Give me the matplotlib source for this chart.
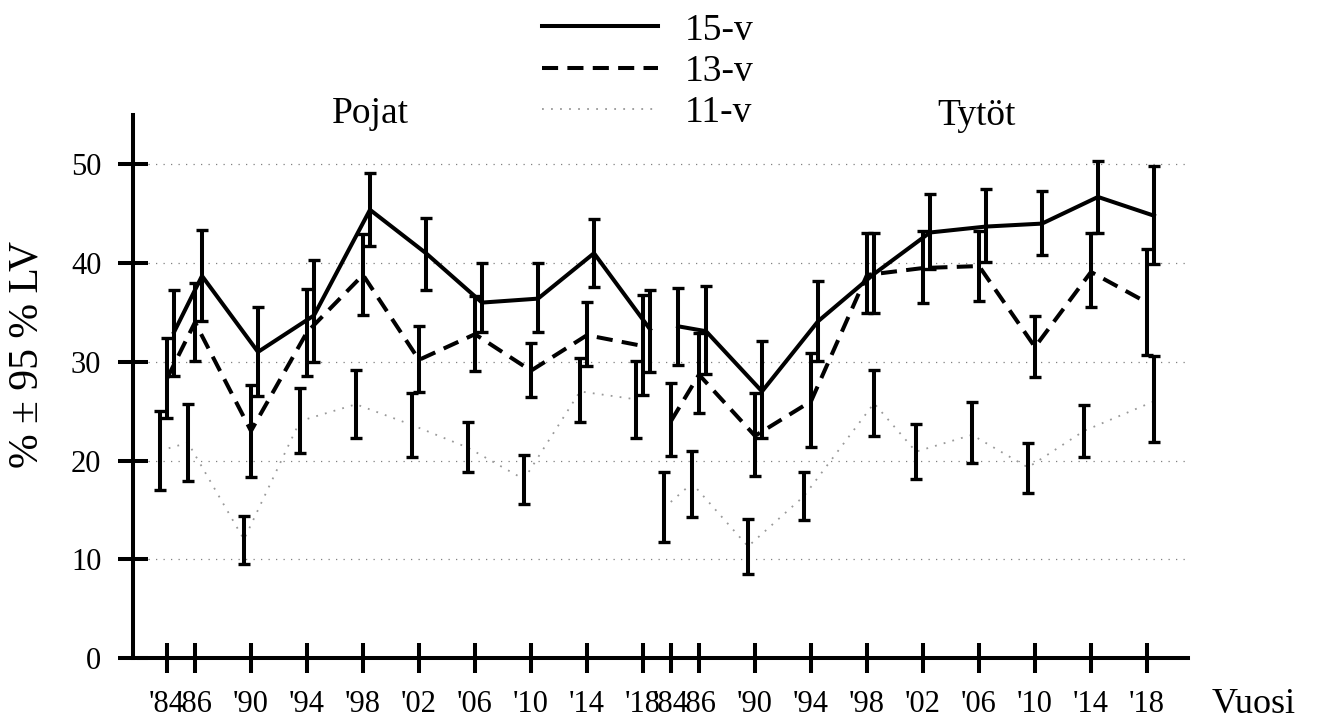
import matplotlib
matplotlib.use("Agg")
import matplotlib.pyplot as plt
from matplotlib.lines import Line2D
import numpy as np

# ---------------- data ----------------
year_labels = ["'84", "'86", "'90", "'94", "'98", "'02", "'06", "'10", "'14", "'18"]
years = [1984, 1986, 1990, 1994, 1998, 2002, 2006, 2010, 2014, 2018]
groups = ["Pojat", "Tytöt"]
series_names = ["15-v", "13-v", "11-v"]

# Pojat (boys)
boys_15 = [33.0, 38.7, 31.0, 34.7, 45.4, 41.0, 36.0, 36.4, 41.0, 33.3]
boys_15_lo = [28.6, 34.1, 26.5, 30.0, 41.7, 37.3, 33.0, 33.0, 37.6, 29.0]
boys_15_hi = [37.3, 43.4, 35.6, 40.3, 49.1, 44.6, 40.0, 40.0, 44.5, 37.3]

boys_13 = [28.3, 34.0, 23.0, 33.0, 38.8, 30.2, 32.8, 29.1, 32.7, 31.6]
boys_13_lo = [24.3, 30.1, 18.3, 28.6, 34.7, 26.9, 29.1, 26.4, 29.6, 26.6]
boys_13_hi = [32.4, 38.0, 27.7, 37.4, 42.9, 33.6, 36.7, 31.9, 36.1, 36.8]

boys_11 = [21.0, 21.8, 12.0, 24.0, 25.7, 23.6, 21.3, 18.1, 27.0, 26.2]
boys_11_lo = [17.0, 17.9, 9.5, 20.8, 22.3, 20.4, 18.8, 15.6, 23.9, 22.3]
boys_11_hi = [25.0, 25.7, 14.4, 27.3, 29.2, 26.8, 23.9, 20.6, 30.4, 30.1]

# Tytöt (girls)
girls_15 = [33.6, 33.1, 27.0, 34.1, 38.9, 43.1, 43.7, 44.0, 46.7, 44.8]
girls_15_lo = [29.7, 28.8, 22.3, 30.1, 34.9, 39.4, 40.1, 40.8, 43.0, 39.9]
girls_15_hi = [37.5, 37.7, 32.1, 38.2, 43.0, 47.0, 47.5, 47.3, 50.3, 49.8]

girls_13 = [24.0, 28.7, 22.5, 26.0, 38.8, 39.5, 39.7, 31.5, 39.1, 36.0]
girls_13_lo = [20.5, 24.8, 18.4, 21.4, 34.9, 36.0, 36.2, 28.5, 35.6, 30.7]
girls_13_hi = [27.9, 32.9, 26.8, 30.9, 43.0, 43.2, 43.2, 34.6, 43.0, 41.4]

girls_11 = [15.2, 17.7, 11.3, 16.4, 25.8, 20.9, 22.6, 19.3, 23.0, 26.0]
girls_11_lo = [11.7, 14.3, 8.5, 14.0, 22.5, 18.1, 19.8, 16.7, 20.4, 21.9]
girls_11_hi = [18.8, 21.0, 14.1, 18.8, 29.2, 23.7, 25.9, 21.8, 25.6, 30.6]

# ---------------- layout / style ----------------
plt.rcParams['font.family'] = ['Liberation Serif', 'DejaVu Serif']

W, H = 1317, 722
fig = plt.figure(figsize=(W / 100, H / 100), dpi=100)
ax = fig.add_axes([133 / W, 64 / H, (1188 - 133) / W, (658 - 115) / H])

group_shift = [0, 36]          # girls block placed after boys block
series_shift_boys = {"15-v": [0.5] * 10, "13-v": [0.0] * 10, "11-v": [-0.5] * 10}
series_shift_girls = {"15-v": [0.5] * 10, "13-v": [0.0] * 10,
                      "11-v": [-0.5, -0.5, -0.5, -0.5, 0.5, -0.5, -0.5, -0.5, -0.5, 0.5]}

data = {
    ("Pojat", "15-v"): (boys_15, boys_15_lo, boys_15_hi),
    ("Pojat", "13-v"): (boys_13, boys_13_lo, boys_13_hi),
    ("Pojat", "11-v"): (boys_11, boys_11_lo, boys_11_hi),
    ("Tytöt", "15-v"): (girls_15, girls_15_lo, girls_15_hi),
    ("Tytöt", "13-v"): (girls_13, girls_13_lo, girls_13_hi),
    ("Tytöt", "11-v"): (girls_11, girls_11_lo, girls_11_hi),
}

lw = 2.9
line_styles = {
    "15-v": dict(color='black', lw=lw, linestyle='-'),
    "13-v": dict(color='black', lw=lw, linestyle=(0, (4, 2.3))),
    "11-v": dict(color='#999999', lw=1.3, linestyle=(0, (1, 4))),
}

base = np.array(years) - years[0]
for gi, g in enumerate(groups):
    shifts = series_shift_boys if gi == 0 else series_shift_girls
    for s in series_names:
        m, lo, hi = (np.array(a) for a in data[(g, s)])
        x = base + group_shift[gi] + np.array(shifts[s])
        ax.plot(x, m, zorder=2, **line_styles[s])
        ax.errorbar(x, m, yerr=[m - lo, hi - m], fmt='none', ecolor='black',
                    elinewidth=2.9, capsize=4, capthick=2.4, zorder=3)

# axes
ax.set_xlim(-34 / 14, (1188 - 167) / 14)
ax.set_ylim(0, 55)
tick_pos = list(base) + list(base + group_shift[1])
ax.set_xticks(tick_pos)
ax.set_xticklabels(year_labels + year_labels)
ax.set_yticks([0, 10, 20, 30, 40, 50])
ax.tick_params(axis='both', direction='inout', length=21.6, width=2.9,
               labelsize=22, color='black')
ax.tick_params(axis='y', pad=12)
ax.tick_params(axis='x', pad=12)

for sp in ['top', 'right']:
    ax.spines[sp].set_visible(False)
ax.spines['left'].set_linewidth(2.9)
ax.spines['bottom'].set_linewidth(2.9)
ax.spines['bottom'].set_bounds(-2.0, (1188 - 167) / 14)

ax.yaxis.grid(True, linestyle=(0, (1, 5)), color='#808080', linewidth=0.9)
ax.set_axisbelow(True)

# group titles
ax.text(14.5, 54.2, groups[0], ha='center', va='baseline', fontsize=27, clip_on=False)
ax.text(57.8, 54.0, groups[1], ha='center', va='baseline', fontsize=27, clip_on=False)

# axis labels
fig.text(1212 / W, (H - 713) / H, 'Vuosi', ha='left', va='baseline', fontsize=26)
fig.text(27 / W, (H - 354) / H, '% ± 95 % LV', rotation=90, ha='center', va='center',
         fontsize=30)

# legend
handles = [Line2D([], [], **line_styles[s]) for s in series_names]
fig.legend(handles, series_names, loc='upper left', bbox_to_anchor=(542 / W, 1 - 13 / H),
           frameon=False, fontsize=27, handlelength=3.1, handletextpad=0.7,
           labelspacing=0.18, borderpad=0, borderaxespad=0)

fig.savefig('out.png', dpi=100)
